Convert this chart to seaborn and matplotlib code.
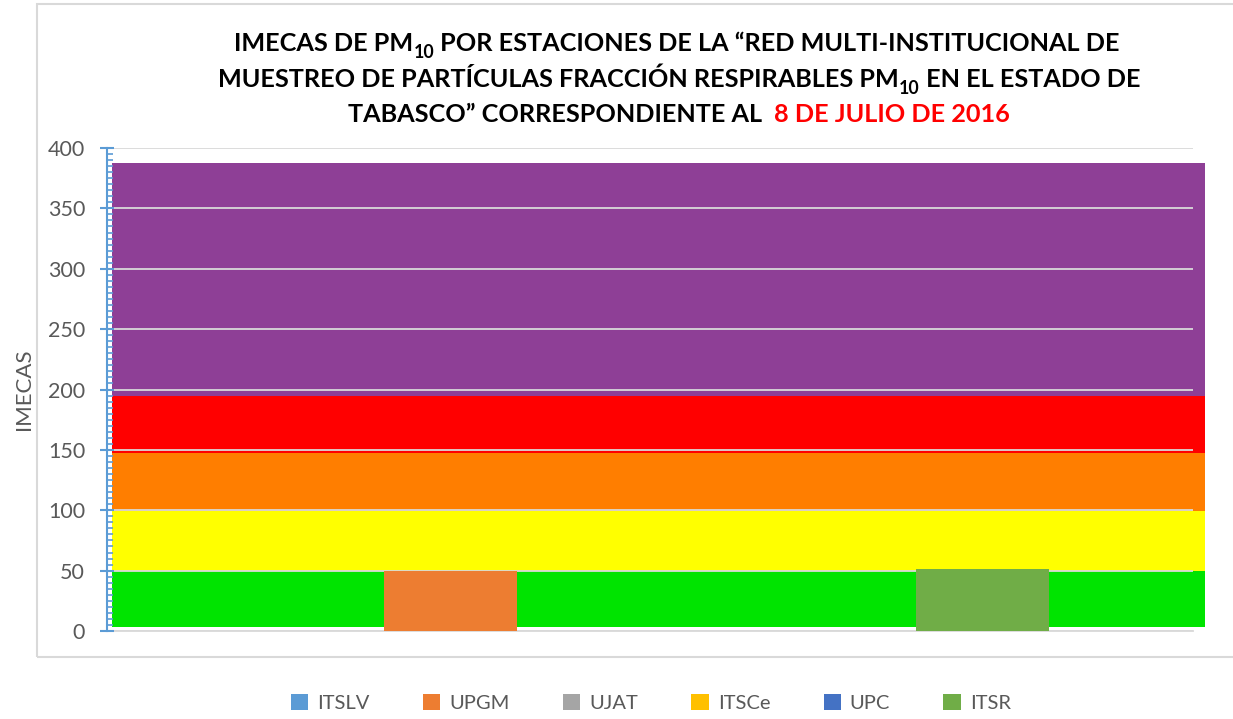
import matplotlib
matplotlib.use("Agg")
import matplotlib.pyplot as plt
from matplotlib.patches import Rectangle
from matplotlib.ticker import MultipleLocator
import seaborn as sns
import pandas as pd

# ---------------- data ----------------
stations = ["ITSLV", "UPGM", "UJAT", "ITSCe", "UPC", "ITSR"]
values = [0, 50, 0, 0, 0, 51.5]
station_colors = ["#5B9BD5", "#ED7D31", "#A5A5A5", "#FFC000", "#4472C4", "#70AD47"]

band_low = [3, 49.5, 99.5, 147, 195]
band_high = [49.5, 99.5, 147, 195, 387.5]
band_colors = ["#00E400", "#FFFF00", "#FF7E00", "#FF0000", "#8E3F96"]

y_ticks = [0, 50, 100, 150, 200, 250, 300, 350, 400]
y_label = "IMECAS"
title_lines = [
    [("IMECAS DE PM", "black", False), ("10", "black", True),
     (" POR ESTACIONES DE LA \u201cRED MULTI-INSTITUCIONAL DE", "black", False)],
    [("MUESTREO DE PART\u00cdCULAS FRACCI\u00d3N RESPIRABLES PM", "black", False), ("10", "black", True),
     (" EN EL ESTADO DE", "black", False)],
    [("TABASCO\u201d CORRESPONDIENTE AL  ", "black", False), ("8 DE JULIO DE 2016", "#FF0000", False)],
]

# ---------------- figure ----------------
sns.set_theme(style="white")
plt.rcParams["font.family"] = ["Lato", "DejaVu Sans"]

W, H = 1233, 719
fig = plt.figure(figsize=(W / 100, H / 100), dpi=100)
ax = fig.add_axes([107 / W, 1 - 631 / H, (1193 - 107) / W, (631 - 148) / H])

# outer chart frame
fig.patches.append(Rectangle((37 / W, 1 - 657 / H), 1.2, (657 - 4) / H, transform=fig.transFigure,
                             fill=False, edgecolor="#D9D9D9", linewidth=1.5, zorder=0))

df = pd.DataFrame({"cat": [""] * len(stations), "station": stations, "value": values})
sns.barplot(data=df, x="cat", y="value", hue="station", hue_order=stations,
            palette=station_colors, width=0.734, saturation=1, dodge=True,
            ax=ax, zorder=3, legend=True, linewidth=0, edgecolor="none")

# AQI bands
for lo, hi, c in zip(band_low, band_high, band_colors):
    ax.axhspan(lo, hi, xmin=0.0046, xmax=1.011, color=c, lw=0, zorder=1, clip_on=False)

ax.set_xlim(-0.5, 0.5)
ax.set_ylim(0, 400)
ax.set_yticks(y_ticks)
ax.yaxis.set_minor_locator(MultipleLocator(5))
ax.set_xticks([])
ax.set_xlabel("")
ax.set_ylabel(y_label, fontsize=16, color="#595959", labelpad=10)
ax.grid(axis="y", color="#D9D9D9", linewidth=1.3, zorder=2)
ax.set_axisbelow(False)
for gl in ax.get_ygridlines():
    gl.set_zorder(2)

for s in ["top", "right"]:
    ax.spines[s].set_visible(False)
ax.spines["left"].set_color("#5B9BD5")
ax.spines["left"].set_linewidth(1.5)
ax.spines["bottom"].set_color("#D9D9D9")
ax.spines["bottom"].set_linewidth(1.3)
ax.tick_params(axis="y", which="major", direction="inout", length=9.5, width=1.5,
               color="#5B9BD5", labelsize=15.5, labelcolor="#595959", pad=11, left=True)
ax.tick_params(axis="y", which="minor", direction="in", length=4.3, width=1.2,
               color="#5B9BD5", left=True)
ax.patch.set_alpha(0)

# legend
handles, labels = ax.get_legend_handles_labels()
ax.get_legend().remove()
fig.legend(handles, labels, loc="center", bbox_to_anchor=(651 / W, 1 - 703 / H), ncol=6,
           frameon=False, fontsize=14.5, labelcolor="#595959", handlelength=0.85,
           handleheight=0.85, handletextpad=0.45, columnspacing=2.65)

# title with subscripts and colored part
fig.canvas.draw()
renderer = fig.canvas.get_renderer()
fs = 18.2
centers = [677, 679, 679]
baselines = [51, 87, 122]
for line, cx, by in zip(title_lines, centers, baselines):
    texts = []
    for txt, col, sub in line:
        t = fig.text(0, 0, txt, color=col, fontsize=fs * (0.7 if sub else 1), fontweight="bold",
                     ha="left", va="baseline", transform=None)
        texts.append((t, sub))
    widths = [t.get_window_extent(renderer).width for t, _ in texts]
    total = sum(widths)
    x = cx - total / 2
    for (t, sub), w in zip(texts, widths):
        y = H - by - (7 if sub else 0)
        t.set_position((x, y))
        x += w

fig.savefig("out.png", dpi=100)
